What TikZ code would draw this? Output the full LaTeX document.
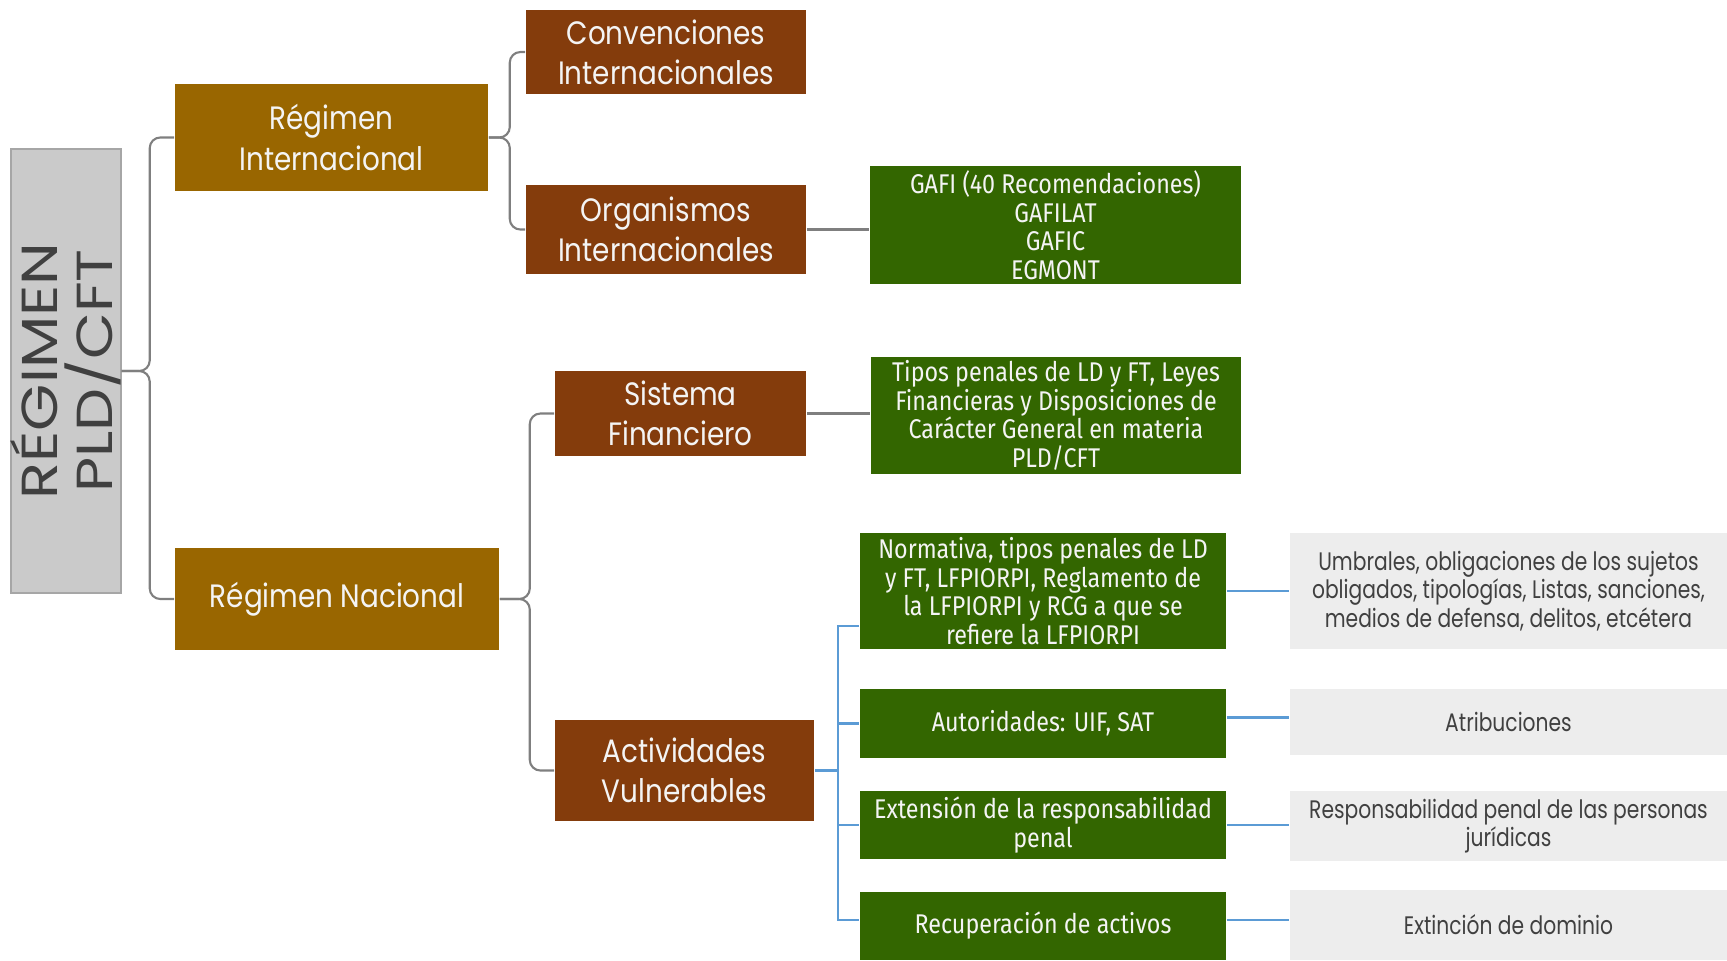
\documentclass[tikz,border=0pt]{standalone}
\usepackage{fontspec}
\setmainfont{Poppins}[FakeStretch=0.8]
\newfontfamily\titlef{Poppins}[FakeStretch=1.2]
\newfontfamily\boxf{Poppins}[FakeStretch=0.86]
\newfontfamily\condf{Fira Sans}[FakeStretch=0.86]
\usetikzlibrary{calc}
\definecolor{goldc}{HTML}{996600}
\definecolor{brownc}{HTML}{843C0C}
\definecolor{greenc}{HTML}{336600}
\definecolor{titlebg}{HTML}{CACACA}
\definecolor{titleln}{HTML}{A6A6A6}
\definecolor{lightbg}{HTML}{EDEDED}
\definecolor{darktxt}{HTML}{404040}
\definecolor{linegray}{HTML}{7F7F7F}
\definecolor{lineblue}{HTML}{5B9BD5}
\definecolor{boxtxt}{HTML}{F4F4F4}
\tikzset{
  basebox/.style={inner sep=0pt, align=center, text=boxtxt},
  goldbox/.style={basebox, fill=goldc, font=\boxf\fontsize{9.2}{11.8}\selectfont},
  brownbox/.style={basebox, fill=brownc, font=\boxf\fontsize{9.2}{11.3}\selectfont},
  greenbox/.style={basebox, fill=greenc, font=\condf\fontsize{7.7}{8.1}\selectfont},
  graybox/.style={inner sep=0pt, align=center, fill=lightbg, text=darktxt, font=\fontsize{7.2}{8.1}\selectfont},
  titlebox/.style={inner sep=0pt, fill=titlebg, draw=titleln, line width=0.4pt},
  gl/.style={draw=linegray, line width=0.6pt, rounded corners=3pt},
  bl/.style={draw=lineblue, line width=0.6pt},
}
\begin{document}
\begin{tikzpicture}[x=0.01cm, y=-0.01cm]
\useasboundingbox (0,0) rectangle (1727,960);
% title
\node[titlebox, minimum width=1.10cm, minimum height=4.44cm] (title) at (66,371) {};
\node[rotate=90, align=center, text=darktxt, font=\titlef\fontsize{14.4}{15.7}\selectfont] (titletxt) at (title.center) {RÉGIMEN\\PLD/CFT};
% level 1
\node[goldbox, minimum width=3.13cm, minimum height=1.07cm] (ri) at (331.5,137.5) {Régimen\\Internacional};
\node[goldbox, minimum width=3.24cm, minimum height=1.02cm] (rn) at (337,599) {Régimen Nacional};
% level 2
\node[brownbox, minimum width=2.80cm, minimum height=0.84cm] (conv) at (666,52) {Convenciones\\Internacionales};
\node[brownbox, minimum width=2.80cm, minimum height=0.89cm] (org) at (666,229.5) {Organismos\\Internacionales};
\node[brownbox, minimum width=2.51cm, minimum height=0.85cm] (sis) at (680.5,413.5) {Sistema\\Financiero};
\node[brownbox, minimum width=2.59cm, minimum height=1.01cm] (act) at (684.5,770.5) {Actividades\\Vulnerables};
% level 3
\node[greenbox, minimum width=3.71cm, minimum height=1.18cm] (gafi) at (1055.5,225) {GAFI (40 Recomendaciones)\\GAFILAT\\GAFIC\\EGMONT};
\node[greenbox, minimum width=3.70cm, minimum height=1.17cm] (tip) at (1056,415.5) {Tipos penales de LD y FT, Leyes\\Financieras y Disposiciones de\\Carácter General en materia\\PLD/CFT};
\node[greenbox, minimum width=3.66cm, minimum height=1.16cm] (norm) at (1043,591) {Normativa, tipos penales de LD\\y FT, LFPIORPI, Reglamento de\\la LFPIORPI y RCG a que se\\refiere la LFPIORPI};
\node[greenbox, minimum width=3.66cm, minimum height=0.69cm] (aut) at (1043,723.5) {Autoridades: UIF, SAT};
\node[greenbox, minimum width=3.66cm, minimum height=0.68cm] (ext) at (1043,825) {Extensión de la responsabilidad\\penal};
\node[greenbox, minimum width=3.66cm, minimum height=0.68cm] (rec) at (1043,926) {Recuperación de activos};
% level 4
\node[graybox, minimum width=4.37cm, minimum height=1.16cm] (umb) at (1508.5,591) {Umbrales, obligaciones de los sujetos\\obligados, tipologías, Listas, sanciones,\\medios de defensa, delitos, etcétera};
\node[graybox, minimum width=4.37cm, minimum height=0.66cm] (atr) at (1508.5,722) {Atribuciones};
\node[graybox, minimum width=4.37cm, minimum height=0.70cm] (res) at (1508.5,826) {Responsabilidad penal de las personas\\jurídicas};
\node[graybox, minimum width=4.37cm, minimum height=0.70cm] (exti) at (1508.5,925) {Extinción de dominio};
% gray connectors (braces)
\coordinate (b1) at ($(title.east)+(28,0)$);
\draw[gl] (ri.west) -| (b1) -- (title.east);
\draw[gl] (rn.west) -| (b1) -- (title.east);
\coordinate (b2) at ($(ri.east)+(21,0)$);
\draw[gl] (conv.west) -| (b2) -- (ri.east);
\draw[gl] (org.west) -| (b2) -- (ri.east);
\coordinate (b3) at ($(rn.east)+(30,0)$);
\draw[gl] (sis.west) -| (b3) -- (rn.east);
\draw[gl] (act.west) -| (b3) -- (rn.east);
\draw[gl] (org.east) -- (org.east -| gafi.west);
\draw[gl] (sis.east) -- (sis.east -| tip.west);
% blue connectors
\coordinate (bx) at ($(act.east)+(23,0)$);
\coordinate (nA) at ($(norm.west)+(0,35)$);
\coordinate (rA) at ($(rec.west)+(0,-6)$);
\coordinate (aA) at ($(aut.east)+(0,-6)$);
\draw[bl] (act.east) -- (bx);
\draw[bl] (nA) -| (bx) |- (rA);
\draw[bl] (bx |- aut.west) -- (aut.west);
\draw[bl] (bx |- ext.west) -- (ext.west);
\draw[bl] (norm.east) -- (umb.west);
\draw[bl] (aA) -- (aA -| atr.west);
\draw[bl] (ext.east) -- (ext.east -| res.west);
\draw[bl] (rA -| rec.east) -- (rA -| exti.west);
\end{tikzpicture}
\end{document}
